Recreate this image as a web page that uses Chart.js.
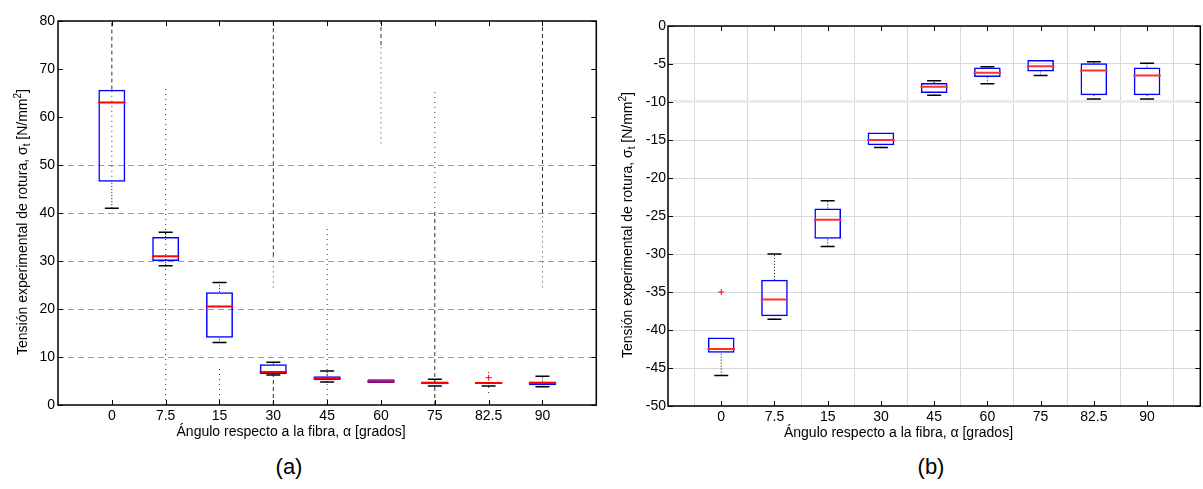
<!DOCTYPE html>
<html>
<head>
<meta charset="utf-8">
<script src="https://cdn.jsdelivr.net/npm/chart.js@4.4.0/dist/chart.umd.min.js"></script>
<style>
  html, body { margin: 0; padding: 0; background: #fff; overflow: hidden; width: 1203px; height: 489px; }
  #wrapA { position: absolute; left: 0; top: 0; }
  #wrapB { position: absolute; left: 610px; top: 0; }
  .lab { position: absolute; top: 456px; font: 22px "Liberation Sans", Arial, sans-serif; line-height: 22px; transform: translateX(-50%); }
</style>
</head>
<body>
<div id="wrapA"><canvas id="chartA" width="612" height="440"></canvas></div>
<div id="wrapB"><canvas id="chartB" width="606" height="440"></canvas></div>
<div class="lab" style="left:289px">(a)</div>
<div class="lab" style="left:931px">(b)</div>
<script>
// --- DATA ---
const categories = ['0', '7.5', '15', '30', '45', '60', '75', '82.5', '90'];
const xTitle = 'Ángulo respecto a la fibra, α [grados]';
const yTitleParts = [
  { t: 'Tensión experimental de rotura, σ' },
  { t: 't', sub: true },
  { t: ' [N/mm' },
  { t: '2', sup: true },
  { t: ']' }
];

// (a) tension
const q1A  = [46.5, 30, 14, 6.4, 5.15, 4.6, 4.3, 4.4, 4.1];
const q3A  = [65.7, 35, 23.5, 8.5, 6.0, 5.35, 4.9, 4.8, 4.9];
const medA = [63, 31, 20.5, 6.9, 5.5, 4.9, 4.6, 4.6, 4.6];
const loA  = [41, 29, 13, 6.25, 4.8, null, 3.95, 3.95, 3.8];
const hiA  = [null, 36, 25.5, 8.9, 7.1, null, 5.35, null, 6.0];
const outCatA = ['82.5'];
const outValA = [5.7];
// extra vertical traces in (a)
const dashCatA  = ['0', '30', '30', '60', '75', '90'];
const dashFromA = [65.7, 31, 0, 75, 0, 40];
const dashToA   = [80, 80, 6.25, 80, 40, 80];
const dotCatA  = ['0', '7.5', '15', '30', '45', '60', '75', '82.5', '90'];
const dotFromA = [46.5, 0, 0, 24.5, 0, 54.5, 40, 2.5, 24.5];
const dotToA   = [65.7, 66, 8, 31, 37.5, 75, 66, 7.5, 40];

// (b) compression
const q1B  = [-43.0, -38.2, -28, -15.7, -8.8, -6.7, -6.0, -9.1, -9.1];
const q3B  = [-41.0, -33.4, -24, -14.0, -7.5, -5.45, -4.48, -4.9, -5.45];
const medB = [-42.5, -36, -25.5, -15.0, -8.0, -6.15, -5.3, -5.85, -6.5];
const loB  = [-46, -38.6, -29, -16, -9.1, -7.6, -6.5, -9.6, -9.6];
const hiB  = [null, -30, -23, null, -7.2, -5.35, null, -4.7, -4.9];
const outCatB = ['0'];
const outValB = [-35];

// --- HELPERS ---
const xOf = c => categories.indexOf(c) + 1;

function segments(cats, from, to) {
  const pts = [];
  cats.forEach((c, i) => {
    pts.push({ x: xOf(c), y: from[i] }, { x: xOf(c), y: to[i] }, { x: xOf(c), y: null });
  });
  return pts;
}

function whiskerPoints(q1, q3, lo, hi) {
  const pts = [];
  categories.forEach((c, i) => {
    const x = i + 1;
    if (hi[i] != null) pts.push({ x, y: q3[i] }, { x, y: hi[i] }, { x, y: null });
    if (lo[i] != null) pts.push({ x, y: lo[i] }, { x, y: q1[i] }, { x, y: null });
  });
  return pts;
}

function capPoints(lo, hi) {
  const pts = [];
  categories.forEach((c, i) => {
    if (hi[i] != null) pts.push({ x: i + 1, y: hi[i] });
    if (lo[i] != null) pts.push({ x: i + 1, y: lo[i] });
  });
  return pts;
}

function boxDatasets(q1, q3, med, lo, hi, outCat, outVal, medColor) {
  return [
    {
      type: 'bar', order: 2,
      data: categories.map((c, i) => ({ x: i + 1, y: [q1[i], q3[i]] })),
      backgroundColor: 'rgba(0,0,0,0)', borderColor: '#0000ff', borderWidth: 1.5,
      borderSkipped: false, barPercentage: 0.5, categoryPercentage: 1
    },
    {
      type: 'line', order: 3,
      data: whiskerPoints(q1, q3, lo, hi),
      borderColor: '#000', borderWidth: 1, borderDash: [1, 2], pointRadius: 0, spanGaps: false
    },
    {
      type: 'scatter', order: 1,
      data: capPoints(lo, hi),
      pointStyle: 'line', pointRadius: 7, pointBorderColor: '#000', pointBorderWidth: 1.5
    },
    {
      type: 'scatter', order: 0,
      data: categories.map((c, i) => ({ x: i + 1, y: med[i] })),
      pointStyle: 'line', pointRadius: 13.7, pointBorderColor: medColor, pointBorderWidth: 2
    },
    {
      type: 'scatter', order: 0,
      data: outCat.map((c, i) => ({ x: xOf(c), y: outVal[i] })),
      pointStyle: 'cross', pointRadius: 3, pointBorderColor: '#ff0000', pointBorderWidth: 1
    }
  ];
}

// frame, inward ticks and axis titles
const framePlugin = {
  id: 'frame',
  afterDraw(chart, args, opts) {
    const { ctx, chartArea: a, scales: { x, y } } = chart;
    const line = (x1, y1, x2, y2) => { ctx.beginPath(); ctx.moveTo(x1, y1); ctx.lineTo(x2, y2); ctx.stroke(); };
    ctx.save();
    ctx.strokeStyle = '#000';
    ctx.lineWidth = 1;
    y.ticks.forEach(t => {
      const py = Math.round(y.getPixelForValue(t.value)) + 0.5;
      line(a.left, py, a.left + 5, py);
      line(a.right - 5, py, a.right, py);
    });
    x.ticks.forEach(t => {
      const px = Math.round(x.getPixelForValue(t.value)) + 0.5;
      line(px, a.bottom, px, a.bottom - 5);
      line(px, a.top, px, a.top + 5);
    });
    ctx.lineWidth = opts.frameWidth;
    ctx.strokeRect(a.left, a.top, a.right - a.left, a.bottom - a.top);

    ctx.fillStyle = '#000';
    ctx.font = '14px "Liberation Sans", Arial, sans-serif';
    ctx.textAlign = 'center';
    ctx.textBaseline = 'middle';
    ctx.fillText(xTitle, x.getPixelForValue(opts.xTitleAt), opts.xTitleY);

    // rotated y title with sub/superscript
    const big = '14px "Liberation Sans", Arial, sans-serif';
    const small = '10px "Liberation Sans", Arial, sans-serif';
    let total = 0;
    yTitleParts.forEach(p => { ctx.font = (p.sub || p.sup) ? small : big; total += ctx.measureText(p.t).width; });
    ctx.translate(opts.yTitleX, (a.top + a.bottom) / 2 + opts.yTitleShift);
    ctx.rotate(-Math.PI / 2);
    ctx.textAlign = 'left';
    ctx.textBaseline = 'alphabetic';
    let cx = -total / 2;
    yTitleParts.forEach(p => {
      ctx.font = (p.sub || p.sup) ? small : big;
      const dy = p.sub ? 3 : (p.sup ? -6 : 0);
      ctx.fillText(p.t, cx, 5 + dy);
      cx += ctx.measureText(p.t).width;
    });
    ctx.restore();
  }
};

Chart.defaults.font.family = '"Liberation Sans", Arial, sans-serif';
Chart.defaults.color = '#000';

function makeChart(id, datasets, cfg) {
  return new Chart(document.getElementById(id), {
    type: 'scatter',
    data: { datasets },
    options: {
      responsive: false,
      animation: false,
      events: [],
      layout: { padding: { top: cfg.padTop, right: cfg.padRight, left: 0, bottom: 0 } },
      plugins: {
        legend: { display: false },
        tooltip: { enabled: false },
        frame: cfg.frame
      },
      scales: {
        x: {
          type: 'linear', min: 0, max: 10, offset: false,
          afterBuildTicks: s => { s.ticks = categories.map((c, i) => ({ value: i + 1 })); },
          afterFit: s => { s.height = cfg.xHeight; },
          ticks: { callback: v => categories[v - 1] ?? '', autoSkip: false, maxRotation: 0, padding: 3, font: { size: 14 } },
          grid: { display: cfg.xGrid, drawTicks: false, color: '#d9d9d9', lineWidth: 1 },
          border: { display: false }
        },
        y: {
          min: cfg.yMin, max: cfg.yMax,
          afterFit: s => { s.width = cfg.yWidth; },
          ticks: { stepSize: cfg.yStep, padding: cfg.yPad, font: { size: 14 } },
          grid: { drawTicks: false, color: cfg.yGridColor, lineWidth: cfg.yGridWidth, borderDash: cfg.yDash },
          border: { display: false, dash: cfg.yDash }
        }
      }
    },
    plugins: [framePlugin]
  });
}

// --- CHART (a) ---
const dsA = boxDatasets(q1A, q3A, medA, loA, hiA, outCatA, outValA, '#ff0000');
dsA.push(
  { type: 'line', order: 4, data: segments(dashCatA, dashFromA, dashToA),
    borderColor: '#333', borderWidth: 1, borderDash: [4, 3], pointRadius: 0, spanGaps: false },
  { type: 'line', order: 4, data: segments(dotCatA, dotFromA, dotToA),
    borderColor: '#333', borderWidth: 1, borderDash: [1, 4], pointRadius: 0, spanGaps: false }
);
makeChart('chartA', dsA, {
  padTop: 21, padRight: 5, xHeight: 35, yWidth: 58, yPad: 3,
  yMin: 0, yMax: 80, yStep: 10, xGrid: false,
  yGridColor: c => (c.tick && c.tick.value >= 10 && c.tick.value <= 50) ? '#9a9a9a' : 'rgba(0,0,0,0)',
  yGridWidth: 1, yDash: [6, 4],
  frame: { frameWidth: 1.5, xTitleAt: 4.33, xTitleY: 432, yTitleX: 22, yTitleShift: 9 }
});

// --- CHART (b) ---
const dsB = boxDatasets(q1B, q3B, medB, loB, hiB, outCatB, outValB, '#ff3030');
makeChart('chartB', dsB, {
  padTop: 26, padRight: 4, xHeight: 34, yWidth: 58, yPad: 2,
  yMin: -50, yMax: 0, yStep: 5, xGrid: true,
  yGridColor: c => (c.tick && c.tick.value === -10) ? '#ebebeb' : '#d9d9d9',
  yGridWidth: c => (c.tick && c.tick.value === -10) ? 3 : 1, yDash: [],
  frame: { frameWidth: 1.5, xTitleAt: 4.33, xTitleY: 433, yTitleX: 17, yTitleShift: 9 }
});
</script>
</body>
</html>
